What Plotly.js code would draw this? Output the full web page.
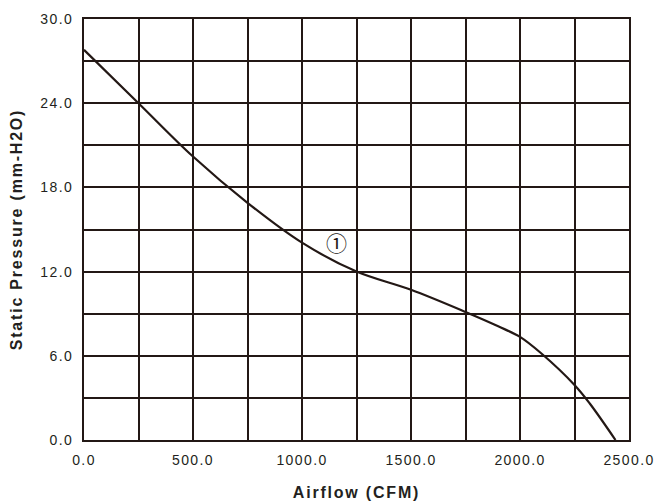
<!DOCTYPE html>
<html>
<head>
<meta charset="utf-8">
<script src="https://cdn.plot.ly/plotly-3.0.1.min.js"></script>
<style>
  html, body { margin: 0; padding: 0; background: #fff; }
  #chart { width: 656px; height: 504px; }
  .xtick text, .ytick text { letter-spacing: 1.4px !important; }
  .g-xtitle text, .g-ytitle text { letter-spacing: 1.8px !important; }
</style>
</head>
<body>
<div id="chart"></div>
<script>
// Airflow (CFM) vs static pressure (mm-H2O), curve 1
const airflow  = [0, 250, 500, 750, 1000, 1250, 1500, 1750, 1900, 2000, 2097, 2250, 2320, 2438];
const pressure = [27.8, 24.0, 20.2, 16.9, 14.06, 12.0, 10.7, 9.12, 8.1, 7.35, 6.18, 3.92, 2.6, 0.0];

const xTickVals = [0, 250, 500, 750, 1000, 1250, 1500, 1750, 2000, 2250, 2500];
const xTickText = ['0.0', '', '500.0', '', '1000.0', '', '1500.0', '', '2000.0', '', '2500.0'];
const yTickVals = [0, 3, 6, 9, 12, 15, 18, 21, 24, 27, 30];
const yTickText = ['0.0', '', '6.0', '', '12.0', '', '18.0', '', '24.0', '', '30.0'];

const curveLabel = '①';
const curveLabelAt = [1156, 14.08];

const ink = '#231815';
const tickFont = { family: 'Liberation Sans, Arial, sans-serif', size: 14, color: '#231f20' };
const titleFont = { family: 'Liberation Sans, Arial, sans-serif', size: 16, color: '#231f20', weight: 'bold' };

const trace = {
  x: airflow, y: pressure, type: 'scatter', mode: 'lines',
  line: { color: ink, width: 2.2, shape: 'spline', smoothing: 1 },
  hoverinfo: 'skip', showlegend: false
};

const layout = {
  width: 656, height: 504,
  margin: { l: 84, r: 27, t: 19, b: 64 },
  paper_bgcolor: '#ffffff', plot_bgcolor: '#ffffff',
  showlegend: false,
  xaxis: {
    range: [0, 2500], tickvals: xTickVals, ticktext: xTickText,
    showgrid: true, gridcolor: ink, gridwidth: 2,
    showline: true, mirror: true, linecolor: ink, linewidth: 2,
    zeroline: false, ticks: '', ticklabelstandoff: 6,
    tickfont: tickFont,
    title: { text: 'Airflow (CFM)', font: titleFont, standoff: 20 },
    fixedrange: true
  },
  yaxis: {
    range: [0, 30], tickvals: yTickVals, ticktext: yTickText,
    showgrid: true, gridcolor: ink, gridwidth: 2,
    showline: true, mirror: true, linecolor: ink, linewidth: 2,
    zeroline: false, ticks: '', ticklabelstandoff: 6,
    tickfont: tickFont,
    title: { text: 'Static Pressure (mm-H2O)', font: titleFont, standoff: 14 },
    fixedrange: true
  },
  annotations: [{
    x: curveLabelAt[0], y: curveLabelAt[1], xref: 'x', yref: 'y',
    text: curveLabel, showarrow: false,
    font: { family: 'Noto Sans CJK JP, DejaVu Sans, sans-serif', size: 21, color: ink },
    bgcolor: 'rgba(255,255,255,0)'
  }]
};

Plotly.newPlot('chart', [trace], layout, { displayModeBar: false, staticPlot: true });
</script>
</body>
</html>
